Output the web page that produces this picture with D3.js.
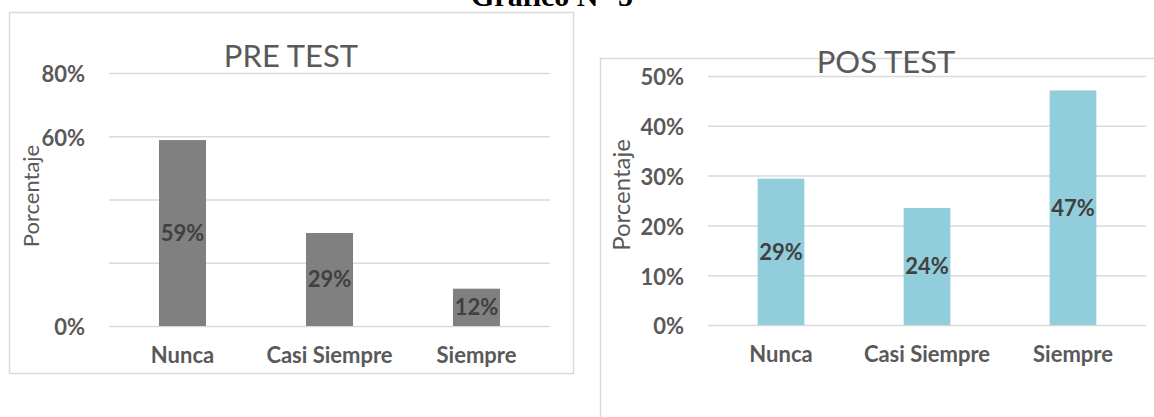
<!DOCTYPE html>
<html>
<head>
<meta charset="utf-8">
<script src="https://cdn.jsdelivr.net/npm/d3@7"></script>
<style>
  body { margin: 0; background: #fff; }
  svg { display: block; }
</style>
</head>
<body>
<script>
// data (17 answers per test)
var categories = ["Nunca", "Casi Siempre", "Siempre"];
var preValues = [58.8, 29.4, 11.8];
var posValues = [29.4, 23.5, 47.1];
var preTicks = [0, 20, 40, 60, 80];
var preTickLabels = [0, 60, 80]; // only these show a label in the original
var posTicks = [0, 10, 20, 30, 40, 50];
var posTickLabels = [0, 10, 20, 30, 40, 50];

var svgWidth = 1154;
var svgHeight = 417;

var svg = d3.select("body")
  .append("svg")
  .attr("width", svgWidth)
  .attr("height", svgHeight);

// page heading, cut off at the top like in the scan
svg.append("text")
  .attr("x", 552)
  .attr("y", 6)
  .attr("text-anchor", "middle")
  .style("font-family", "'Liberation Serif', serif")
  .style("font-weight", "bold")
  .style("font-size", "30px")
  .style("fill", "#000")
  .text("Gráfico N° 5");

// chart frames
svg.append("rect")
  .attr("x", 9.5).attr("y", 12.5)
  .attr("width", 564).attr("height", 361)
  .attr("fill", "#fff")
  .attr("stroke", "#d9d9d9")
  .attr("stroke-width", 1.5);

svg.append("rect")
  .attr("x", 600.5).attr("y", 58.5)
  .attr("width", 620).attr("height", 420)
  .attr("fill", "#fff")
  .attr("stroke", "#d9d9d9")
  .attr("stroke-width", 1.5);

function drawChart(cfg) {
  var g = svg.append("g");

  var xScale = d3.scaleBand()
    .domain(categories)
    .range([cfg.left, cfg.right])
    .paddingInner(0.68)
    .paddingOuter(0.34);

  var yScale = d3.scaleLinear()
    .domain([0, cfg.max])
    .range([cfg.bottom, cfg.top]);

  // gridlines + tick labels
  var leftAxis = d3.axisLeft(yScale)
    .tickValues(cfg.ticks)
    .tickSize(-(cfg.right - cfg.left))
    .tickPadding(24)
    .tickFormat(function(d) { return cfg.tickLabels.indexOf(d) > -1 ? d + "%" : ""; });

  var yAxis = g.append("g")
    .attr("transform", `translate(${cfg.left}, 0)`)
    .call(leftAxis);
  yAxis.select(".domain").remove();
  yAxis.selectAll("line")
    .attr("stroke", "#d9d9d9")
    .attr("stroke-width", 1.5);
  yAxis.selectAll("text")
    .attr("dy", "0.4em")
    .style("font-family", "Lato, sans-serif")
    .style("font-weight", "bold")
    .style("font-size", "22px")
    .style("fill", "#595959");

  // bars
  g.selectAll("rect.bar")
    .data(cfg.values)
    .enter()
    .append("rect")
    .attr("class", "bar")
    .attr("x", (d, i) => xScale(categories[i]))
    .attr("y", d => yScale(d))
    .attr("width", xScale.bandwidth())
    .attr("height", d => yScale(0) - yScale(d))
    .attr("fill", cfg.color);

  // value labels, centred in each bar
  g.selectAll("text.val")
    .data(cfg.values)
    .enter()
    .append("text")
    .attr("class", "val")
    .attr("x", (d, i) => xScale(categories[i]) + xScale.bandwidth() / 2)
    .attr("y", d => (yScale(d) + yScale(0)) / 2)
    .attr("dy", "0.36em")
    .attr("text-anchor", "middle")
    .style("font-family", "Lato, sans-serif")
    .style("font-weight", "bold")
    .style("font-size", "22px")
    .style("fill", "#404040")
    .text(d => Math.round(d) + "%");

  // category axis
  var bottomAxis = d3.axisBottom(xScale).tickSize(0).tickPadding(21);
  var xAxis = g.append("g")
    .attr("transform", `translate(0, ${cfg.bottom})`)
    .call(bottomAxis);
  xAxis.select(".domain").remove();
  xAxis.selectAll("text")
    .style("font-family", "Lato, sans-serif")
    .style("font-weight", "bold")
    .style("font-size", "22px")
    .style("fill", "#595959");

  // chart title
  g.append("text")
    .attr("x", cfg.titleX)
    .attr("y", cfg.titleY)
    .attr("text-anchor", "middle")
    .style("font-family", "Lato, sans-serif")
    .style("font-size", "31px")
    .style("fill", "#595959")
    .text(cfg.title);

  // y axis title
  g.append("text")
    .attr("transform", `translate(${cfg.yLabelX}, ${cfg.yLabelY}) rotate(-90)`)
    .attr("text-anchor", "middle")
    .style("font-family", "Lato, sans-serif")
    .style("font-size", cfg.yLabelSize + "px")
    .style("fill", "#595959")
    .text("Porcentaje");
}

drawChart({
  values: preValues, ticks: preTicks, tickLabels: preTickLabels, max: 80,
  left: 109, right: 550, bottom: 326, top: 73,
  color: "#808080",
  title: "PRE TEST", titleX: 291, titleY: 67,
  yLabelX: 39, yLabelY: 196, yLabelSize: 22
});

drawChart({
  values: posValues, ticks: posTicks, tickLabels: posTickLabels, max: 50,
  left: 708, right: 1146, bottom: 325, top: 76,
  color: "#92cddc",
  title: "POS TEST", titleX: 886, titleY: 73,
  yLabelX: 630, yLabelY: 195, yLabelSize: 24
});
</script>
</body>
</html>
